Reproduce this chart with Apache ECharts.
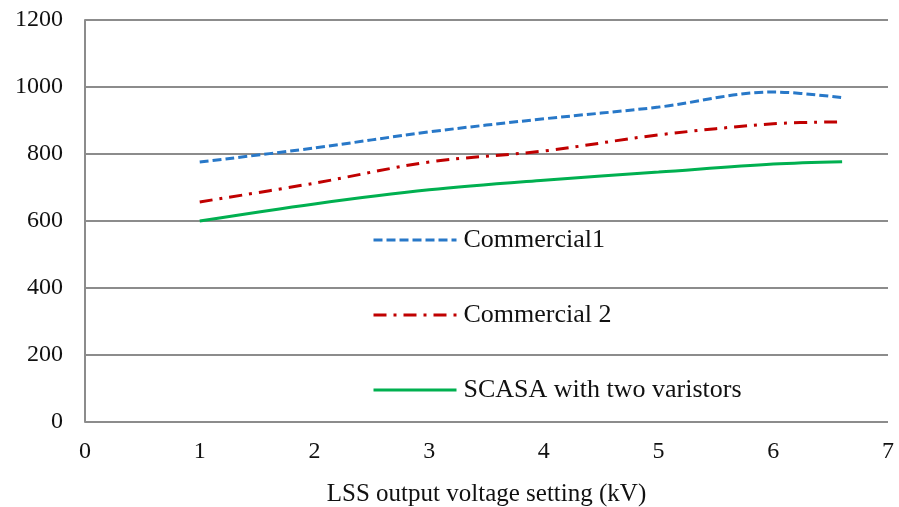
<!DOCTYPE html>
<html>
<head>
<meta charset="utf-8">
<script src="https://cdn.jsdelivr.net/npm/echarts@6/dist/echarts.min.js"></script>
<style>
html,body{margin:0;padding:0;background:#fff;}
#chart{width:899px;height:507px;}
</style>
</head>
<body>
<div id="chart"></div>
<script>
// LSS output voltage settings (kV)
const voltages = [1, 2, 3, 4, 5, 6, 6.6];
const commercial1 = [776, 818, 866, 905, 940, 985, 968];
const commercial2 = [657, 713, 776, 809, 857, 890, 896];
const scasa = [600, 651, 693, 722, 746, 770, 777];
const seriesNames = ['Commercial1', 'Commercial 2', 'SCASA with two varistors'];
const xTicks = [0, 1, 2, 3, 4, 5, 6, 7];
const yTicks = [0, 200, 400, 600, 800, 1000, 1200];

const pairs = vals => voltages.map((v, i) => [v, vals[i]]);
const serif = '"Liberation Serif", "DejaVu Serif", serif';

const chart = echarts.init(document.getElementById('chart'));
chart.setOption({
  animation: false,
  grid: { left: 85, right: 11, top: 20, bottom: 85, containLabel: false, outerBoundsMode: 'none' },
  legend: {
    orient: 'vertical',
    left: 367,
    top: 222,
    itemWidth: 83,
    itemHeight: 26,
    itemGap: 49,
    itemStyle: { opacity: 0 },
    lineStyle: { width: 3 },
    textStyle: { fontFamily: serif, fontSize: 26, color: '#111', padding: [0, 0, 0, 2] },
    data: seriesNames
  },
  xAxis: {
    type: 'value',
    min: xTicks[0],
    max: xTicks[xTicks.length - 1],
    interval: 1,
    name: 'LSS output voltage setting (kV)',
    nameLocation: 'middle',
    nameGap: 60,
    nameTextStyle: { fontFamily: serif, fontSize: 25, color: '#111' },
    axisLine: { show: false },
    axisTick: { show: false },
    splitLine: { show: false },
    axisLabel: { fontFamily: serif, fontSize: 24, color: '#111', margin: 18 }
  },
  yAxis: {
    type: 'value',
    min: yTicks[0],
    max: yTicks[yTicks.length - 1],
    interval: 200,
    axisLine: { show: true, lineStyle: { color: '#8c8c8c', width: 2 } },
    axisTick: { show: false },
    splitLine: { show: true, lineStyle: { color: '#8c8c8c', width: 2 } },
    axisLabel: { fontFamily: serif, fontSize: 24, color: '#111', margin: 22, formatter: v => String(v) }
  },
  series: [
    {
      name: seriesNames[0], type: 'line', data: pairs(commercial1),
      smooth: 0.35, symbol: 'none',
      lineStyle: { color: '#2878c8', width: 3, type: [9, 4] },
      itemStyle: { color: '#2878c8' }
    },
    {
      name: seriesNames[1], type: 'line', data: pairs(commercial2),
      smooth: 0.35, symbol: 'none',
      lineStyle: { color: '#c00000', width: 3, type: [13, 7, 3, 7] },
      itemStyle: { color: '#c00000' }
    },
    {
      name: seriesNames[2], type: 'line', data: pairs(scasa),
      smooth: 0.35, symbol: 'none',
      lineStyle: { color: '#00b050', width: 3 },
      itemStyle: { color: '#00b050' }
    }
  ]
});
</script>
</body>
</html>
